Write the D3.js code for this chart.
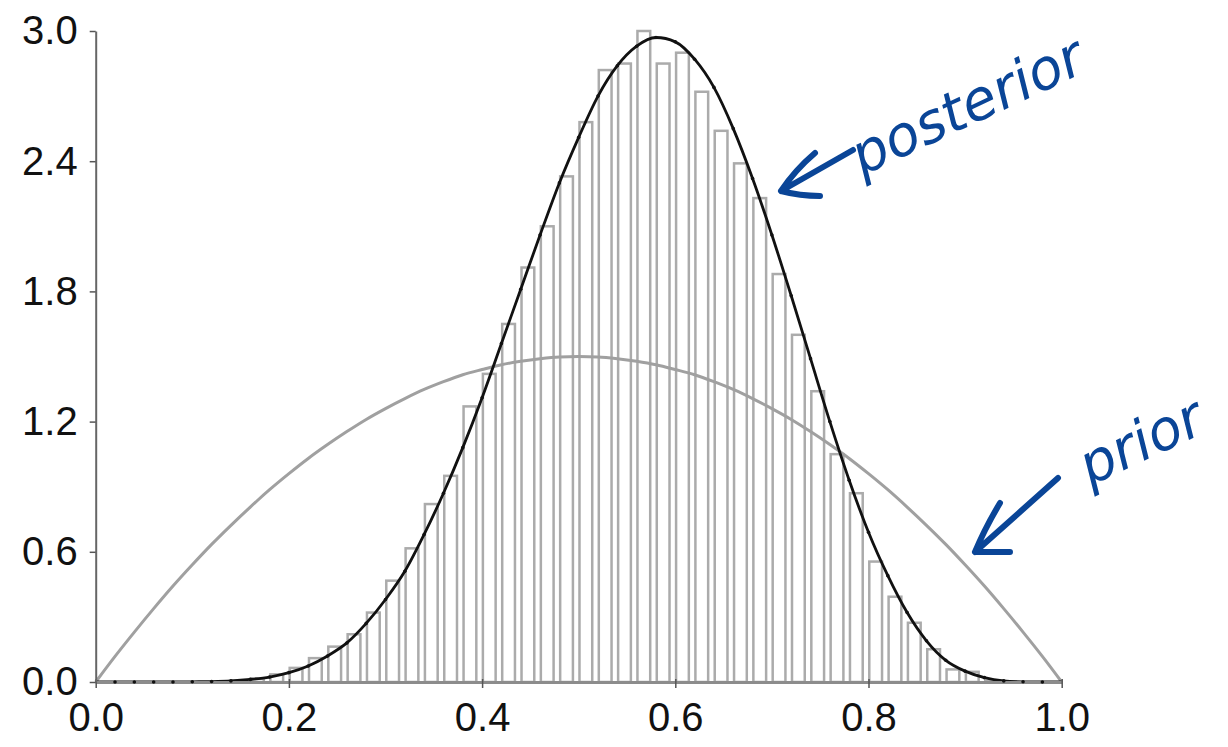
<!DOCTYPE html>
<html>
<head>
<meta charset="utf-8">
<script src="https://cdn.jsdelivr.net/npm/d3@7"></script>
<style>
  body { margin: 0; background: #fff; }
  svg { display: block; }
</style>
</head>
<body>
<svg id="chart"></svg>
<script>
// histogram: 50 bins of width 0.02, values read at bin centres
const binCenters = d3.range(50).map(i => +(0.01 + i * 0.02).toFixed(2));
const binHeights = [
  0, 0, 0, 0, 0, 0, 0, 0.005, 0.015, 0.035,
  0.065, 0.11, 0.163, 0.22, 0.32, 0.467, 0.616, 0.82, 0.95, 1.27,
  1.42, 1.65, 1.91, 2.10, 2.33, 2.58, 2.82, 2.85, 3.0, 2.85,
  2.90, 2.72, 2.54, 2.39, 2.23, 1.88, 1.60, 1.34, 1.05, 0.87,
  0.555, 0.393, 0.273, 0.151, 0.058, 0.047, 0.005, 0, 0, 0
];

// curves, read every 0.02
const curveX = d3.range(51).map(i => +(i * 0.02).toFixed(2));
const posterior = [
  0, 0, 0, 0, 0, 0.001, 0.002, 0.005, 0.012, 0.023,
  0.043, 0.074, 0.12, 0.18, 0.27, 0.38, 0.51, 0.68, 0.87, 1.08,
  1.31, 1.56, 1.81, 2.06, 2.30, 2.51, 2.70, 2.84, 2.93, 2.97,
  2.95, 2.87, 2.74, 2.55, 2.32, 2.06, 1.78, 1.49, 1.20, 0.93,
  0.69, 0.49, 0.32, 0.19, 0.10, 0.05, 0.02, 0.005, 0.001, 0, 0
];
const prior = [
  0, 0.118, 0.23, 0.338, 0.442, 0.54, 0.634, 0.722, 0.806, 0.886,
  0.96, 1.03, 1.094, 1.154, 1.21, 1.26, 1.306, 1.348, 1.384, 1.416,
  1.44, 1.462, 1.478, 1.49, 1.498, 1.5, 1.498, 1.49, 1.478, 1.462,
  1.44, 1.416, 1.384, 1.348, 1.306, 1.26, 1.21, 1.154, 1.094, 1.03,
  0.96, 0.886, 0.806, 0.722, 0.634, 0.54, 0.442, 0.338, 0.23, 0.118, 0
];

const xTicks = [0, 0.2, 0.4, 0.6, 0.8, 1.0];
const yTicks = [0, 0.6, 1.2, 1.8, 2.4, 3.0];

const width = 1228, height = 747;
const svg = d3.select("#chart").attr("width", width).attr("height", height);

const x = d3.scaleLinear().domain([0, 1]).range([95.7, 1061.7]);
const y = d3.scaleLinear().domain([0, 3]).range([682, 31]);

const binPx = x(0.02) - x(0);
const barW = binPx * 0.66;

// bars
svg.append("g")
  .selectAll("rect")
  .data(binCenters.map((c, i) => ({c: c, v: binHeights[i]})))
  .enter()
  .append("rect")
  .attr("x", d => x(d.c) - barW / 2 - 2.5)
  .attr("y", d => y(d.v))
  .attr("width", barW)
  .attr("height", d => y(0) - y(d.v))
  .attr("fill", "#fff")
  .attr("stroke", "#ababab")
  .attr("stroke-width", 2.5);

const line = d3.line()
  .x(d => x(d[0]))
  .y(d => y(d[1]))
  .curve(d3.curveMonotoneX);

svg.append("path")
  .datum(curveX.map((v, i) => [v, prior[i]]))
  .attr("fill", "none")
  .attr("stroke", "#a0a0a0")
  .attr("stroke-width", 3)
  .attr("d", line);

svg.append("path")
  .datum(curveX.map((v, i) => [v, posterior[i]]))
  .attr("fill", "none")
  .attr("stroke", "#111")
  .attr("stroke-width", 2.8)
  .attr("d", line);

// axes
const fmt = d3.format(".1f");
const xAxis = svg.append("g")
  .attr("transform", `translate(0,${y(0)})`)
  .call(d3.axisBottom(x).tickValues(xTicks).tickFormat(fmt).tickSizeInner(6).tickSizeOuter(0).tickPadding(15));
xAxis.select(".domain").attr("stroke", "#8c8c8c").attr("stroke-width", 3);
xAxis.selectAll(".tick line").attr("stroke", "#555").attr("stroke-width", 1.5).attr("y1", -3);
xAxis.selectAll(".tick text")
  .attr("font-family", "'Liberation Sans', Arial, sans-serif")
  .attr("font-size", 40)
  .attr("fill", "#111");

const yAxis = svg.append("g")
  .attr("transform", `translate(${x(0)},0)`)
  .call(d3.axisLeft(y).tickValues(yTicks).tickFormat(fmt).tickSizeInner(6).tickSizeOuter(0).tickPadding(12));
yAxis.select(".domain").attr("stroke", "#666").attr("stroke-width", 2);
yAxis.selectAll(".tick line").attr("stroke", "#555").attr("stroke-width", 1.5);
yAxis.selectAll(".tick text")
  .attr("font-family", "'Liberation Sans', Arial, sans-serif")
  .attr("font-size", 40)
  .attr("fill", "#111");

// posterior points show as dots along the axis
svg.append("g")
  .selectAll("circle")
  .data(curveX.map((v, i) => [v, posterior[i]]).filter(d => d[0] > 0 && d[0] < 1))
  .enter()
  .append("circle")
  .attr("cx", d => x(d[0]))
  .attr("cy", d => y(d[1]))
  .attr("r", 1.8)
  .attr("fill", "#111");

// hand-written notes
const ink = "#0a4597";
const notes = svg.append("g")
  .attr("fill", "none")
  .attr("stroke", ink)
  .attr("stroke-width", 6)
  .attr("stroke-linecap", "round")
  .attr("stroke-linejoin", "round");
notes.append("path").attr("d", "M853,150 L781,191 M815,153 Q795,170 781,191 Q800,196 820,196");
notes.append("path").attr("d", "M1058,478 L975,552 M1000,503 Q985,528 975,552 Q995,552 1010,552");

svg.append("text")
  .attr("transform", "translate(862,176) rotate(-25)")
  .attr("font-family", "'DejaVu Sans', sans-serif")
  .attr("font-style", "italic")
  .attr("font-size", 56)
  .attr("textLength", 250)
  .attr("lengthAdjust", "spacingAndGlyphs")
  .attr("fill", ink)
  .text("posterior");

svg.append("text")
  .attr("transform", "translate(1090,486) rotate(-25)")
  .attr("font-family", "'DejaVu Sans', sans-serif")
  .attr("font-style", "italic")
  .attr("font-size", 56)
  .attr("textLength", 130)
  .attr("lengthAdjust", "spacingAndGlyphs")
  .attr("fill", ink)
  .text("prior");
</script>
</body>
</html>
